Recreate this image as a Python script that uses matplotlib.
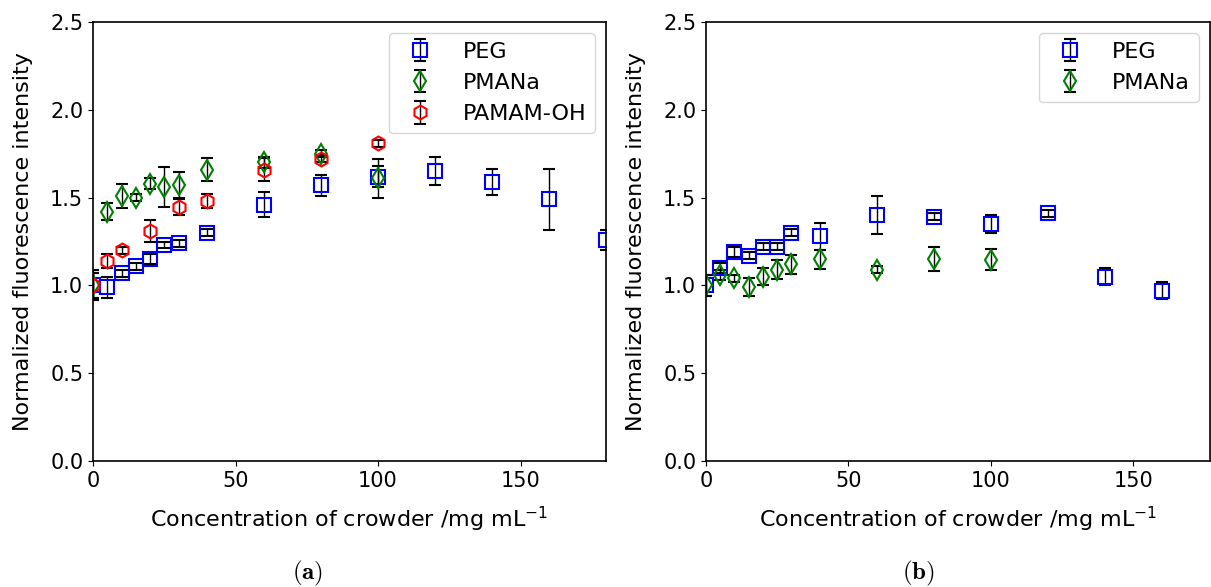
import numpy as np
import matplotlib
matplotlib.use("Agg")
import matplotlib.pyplot as plt

# ---- panel (a) ----
peg_x_a = [0, 5, 10, 15, 20, 25, 30, 40, 60, 80, 100, 120, 140, 160, 180]
peg_y_a = [1.00, 0.99, 1.07, 1.11, 1.15, 1.23, 1.24, 1.30, 1.46, 1.57, 1.62, 1.65, 1.59, 1.49, 1.26]
peg_e_a = [0.07, 0.06, 0.02, 0.02, 0.03, 0.015, 0.02, 0.02, 0.07, 0.06, 0.06, 0.08, 0.075, 0.175, 0.057]

pmana_x_a = [0, 5, 10, 15, 20, 25, 30, 40, 60, 80, 100]
pmana_y_a = [1.00, 1.42, 1.51, 1.50, 1.58, 1.56, 1.57, 1.66, 1.70, 1.75, 1.61]
pmana_e_a = [0.07, 0.05, 0.07, 0.02, 0.03, 0.115, 0.074, 0.067, 0.03, 0.02, 0.11]

pamam_x_a = [0, 5, 10, 20, 30, 40, 60, 80, 100]
pamam_y_a = [1.00, 1.14, 1.20, 1.31, 1.445, 1.48, 1.66, 1.72, 1.81]
pamam_e_a = [0.085, 0.04, 0.02, 0.064, 0.045, 0.04, 0.067, 0.02, 0.02]

# ---- panel (b) ----
peg_x_b = [0, 5, 10, 15, 20, 25, 30, 40, 60, 80, 100, 120, 140, 160]
peg_y_b = [1.00, 1.10, 1.19, 1.17, 1.22, 1.22, 1.30, 1.28, 1.40, 1.39, 1.35, 1.41, 1.05, 0.97]
peg_e_b = [0.06, 0.03, 0.03, 0.02, 0.02, 0.02, 0.02, 0.077, 0.108, 0.02, 0.05, 0.02, 0.05, 0.05]

pmana_x_b = [0, 5, 10, 15, 20, 25, 30, 40, 60, 80, 100]
pmana_y_b = [1.00, 1.06, 1.04, 0.99, 1.05, 1.09, 1.12, 1.15, 1.09, 1.15, 1.145]
pmana_e_b = [0.06, 0.03, 0.02, 0.05, 0.05, 0.055, 0.055, 0.054, 0.02, 0.067, 0.06]

FS = 15
LFS = 16
plt.rcParams["font.family"] = "DejaVu Sans"
plt.rcParams["font.size"] = FS
plt.rcParams["axes.linewidth"] = 1.2

fig = plt.figure(figsize=(12.11, 5.87), dpi=100)
ax1 = fig.add_axes([93 / 1211, 126 / 587, 513 / 1211, 439 / 587])
ax2 = fig.add_axes([706 / 1211, 126 / 587, 504 / 1211, 439 / 587])

style = dict(linestyle="none", ecolor="black", elinewidth=1, capsize=4, capthick=1.5,
             markersize=10, markeredgewidth=1.5, markerfacecolor="none")


def panel(ax, series, xmax):
    for x, y, e, mk, col, lab in series:
        ax.errorbar(x, y, yerr=e, marker=mk, markeredgecolor=col, label=lab, **style)
    ax.set_xlim(0, xmax)
    ax.set_ylim(0, 2.5)
    ax.set_xticks([0, 50, 100, 150])
    ax.set_yticks([0.0, 0.5, 1.0, 1.5, 2.0, 2.5])
    ax.set_xlabel("Concentration of crowder /mg mL$^{-1}$", fontsize=LFS, labelpad=10)
    ax.set_ylabel("Normalized fluorescence intensity", fontsize=LFS, labelpad=12)
    ax.tick_params(labelsize=FS)
    ax.legend(loc="upper right", fontsize=LFS, handletextpad=0.9, borderpad=0.4,
              labelspacing=0.5)


panel(ax1, [
    (peg_x_a, peg_y_a, peg_e_a, "s", "blue", "PEG"),
    (pmana_x_a, pmana_y_a, pmana_e_a, "d", "green", "PMANa"),
    (pamam_x_a, pamam_y_a, pamam_e_a, "h", "red", "PAMAM-OH"),
], 180)

panel(ax2, [
    (peg_x_b, peg_y_b, peg_e_b, "s", "blue", "PEG"),
    (pmana_x_b, pmana_y_b, pmana_e_b, "d", "green", "PMANa"),
], 177)

fig.text(308 / 1211, 1 - 573 / 587, r"$\mathbf{(a)}$", ha="center", va="center",
         fontsize=18, math_fontfamily="cm")
fig.text(918 / 1211, 1 - 573 / 587, r"$\mathbf{(b)}$", ha="center", va="center",
         fontsize=18, math_fontfamily="cm")

fig.savefig("out.png", dpi=100)
